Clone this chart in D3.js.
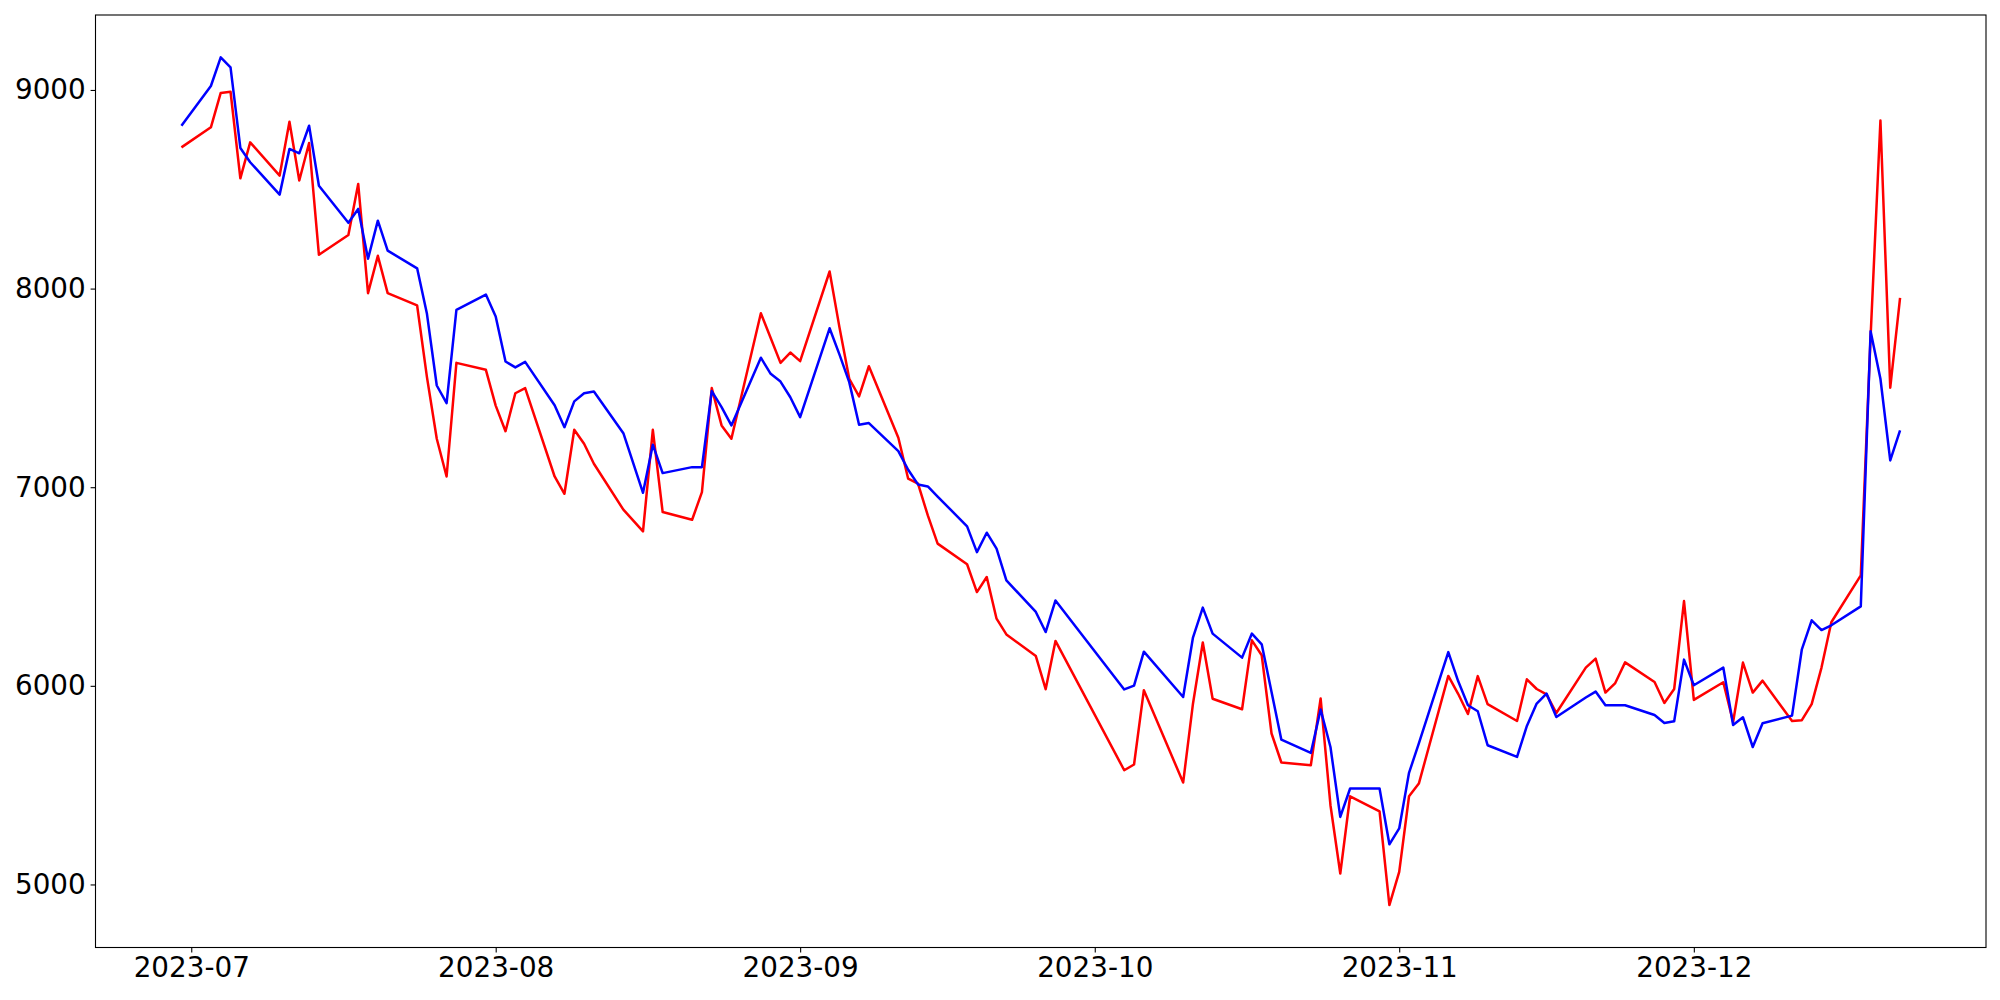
<!DOCTYPE html>
<html>
<head>
<meta charset="utf-8">
<script src="https://cdn.jsdelivr.net/npm/d3@7"></script>
<style>
  body { margin: 0; background: #fff; }
  svg text { font-family: "DejaVu Sans", sans-serif; }
</style>
</head>
<body>
<div id="main"></div>
<script>
// DATA (trading days)
var dates = [
  "2023-06-30",
  "2023-07-03","2023-07-04","2023-07-05","2023-07-06","2023-07-07",
  "2023-07-10","2023-07-11","2023-07-12","2023-07-13","2023-07-14",
  "2023-07-17","2023-07-18","2023-07-19","2023-07-20","2023-07-21",
  "2023-07-24","2023-07-25","2023-07-26","2023-07-27","2023-07-28","2023-07-31",
  "2023-08-01","2023-08-02","2023-08-03","2023-08-04",
  "2023-08-07","2023-08-08","2023-08-09","2023-08-10","2023-08-11",
  "2023-08-14","2023-08-16","2023-08-17","2023-08-18",
  "2023-08-21","2023-08-22","2023-08-23","2023-08-24","2023-08-25",
  "2023-08-28","2023-08-29","2023-08-30","2023-08-31",
  "2023-09-01","2023-09-04","2023-09-05","2023-09-06","2023-09-07","2023-09-08",
  "2023-09-11","2023-09-12","2023-09-13","2023-09-14","2023-09-15",
  "2023-09-18","2023-09-19","2023-09-20","2023-09-21","2023-09-22",
  "2023-09-25","2023-09-26","2023-09-27",
  "2023-10-04","2023-10-05","2023-10-06",
  "2023-10-10","2023-10-11","2023-10-12","2023-10-13",
  "2023-10-16","2023-10-17","2023-10-18","2023-10-19","2023-10-20",
  "2023-10-23","2023-10-24","2023-10-25","2023-10-26","2023-10-27",
  "2023-10-30","2023-10-31",
  "2023-11-01","2023-11-02","2023-11-03",
  "2023-11-06","2023-11-07","2023-11-08","2023-11-09","2023-11-10",
  "2023-11-13","2023-11-14","2023-11-15","2023-11-16","2023-11-17",
  "2023-11-20","2023-11-21","2023-11-22","2023-11-23","2023-11-24",
  "2023-11-27","2023-11-28","2023-11-29","2023-11-30",
  "2023-12-01","2023-12-04","2023-12-05","2023-12-06","2023-12-07","2023-12-08",
  "2023-12-11","2023-12-12","2023-12-13","2023-12-14","2023-12-15",
  "2023-12-18","2023-12-19","2023-12-20","2023-12-21","2023-12-22"
]

var red_values = [
  8711,
  8812, 8985, 8991, 8555, 8736, 8569, 8840, 8544, 8733, 8170,
  8270, 8527, 7977, 8165, 7977, 7915, 7554, 7244, 7054, 7626, 7591,
  7411, 7282, 7473, 7499, 7054, 6967, 7289, 7219, 7118,
  6887, 6778, 7289, 6875, 6836, 6975, 7499, 7311, 7244,
  7876, 7751, 7626, 7678,
  7635, 8086, 7806, 7546, 7457, 7609, 7249, 7043, 7018, 6858, 6716,
  6612, 6472, 6548, 6338, 6259, 6150, 5983, 6226,
  5575, 5604, 5978, 5513, 5910, 6218, 5935, 5882, 6229, 6154, 5760, 5614,
  5600, 5936, 5399, 5055, 5444, 5368, 4896,
  5063, 5444, 5508, 6050, 5960, 5858, 6049, 5908,
  5823, 6033, 5984, 5957, 5863, 6092, 6137, 5966, 6014, 6118,
  6019, 5914, 5984, 6427,
  5929, 6018, 5818, 6117, 5966, 6026, 5823, 5827, 5908, 6092, 6320,
  6556, 7760, 8846, 7501, 7953
]

var blue_values = [
  8820,
  9020, 9164, 9114, 8708, 8636, 8473, 8703, 8681, 8820, 8518,
  8331, 8401, 8150, 8342, 8191, 8102, 7873, 7512, 7423, 7893, 7970,
  7860, 7633, 7603, 7631, 7413, 7302, 7432, 7473, 7482,
  7272, 6972, 7214, 7071, 7101, 7101, 7484, 7403, 7311,
  7652, 7571, 7532, 7453,
  7353, 7800, 7669, 7529, 7314, 7323, 7182, 7088, 7014, 7004, 6953,
  6803, 6673, 6771, 6691, 6531, 6372, 6271, 6430,
  5982, 6001, 6172, 5944, 6243, 6394, 6263, 6142, 6263, 6209, 5969, 5729,
  5662, 5881, 5692, 5340, 5483, 5483, 5202,
  5282, 5562, 5710, 6170, 6024, 5902, 5872, 5701,
  5642, 5798, 5911, 5961, 5843, 5941, 5971, 5902, 5902, 5902,
  5853, 5813, 5822, 6132,
  6003, 6092, 5803, 5842, 5692, 5812, 5850, 6184, 6330, 6281, 6305,
  6400, 7785, 7546, 7135, 7286
]

var y_ticks = [5000, 6000, 7000, 8000, 9000]

// LAYOUT
var width = 2000
var height = 1000
var margin = {left: 95.5, right: 14, top: 15, bottom: 52.5}
var font_size = '27.8px'

var parse = d3.utcParse('%Y-%m-%d')
var red_rows = dates.map((d, i) => ({date: parse(d), value: red_values[i]}))
var blue_rows = dates.map((d, i) => ({date: parse(d), value: blue_values[i]}))

// Matplotlib style auto limits: 5% margin on each side
function padded(extent) {
  var pad = (extent[1] - extent[0]) * 0.05
  return [extent[0] - pad, extent[1] + pad]
}

var x_ext = d3.extent(red_rows, d => d.date).map(d => +d)
var all_values = red_values.concat(blue_values)

var x = d3.scaleUtc()
  .domain(padded(x_ext).map(d => new Date(d)))
  .range([margin.left, width - margin.right])
var y = d3.scaleLinear()
  .domain(padded(d3.extent(all_values)))
  .range([height - margin.bottom, margin.top])

var svg = d3.select('#main').append('svg')
  .attr('width', width)
  .attr('height', height)
  .style('background', '#fff')

// Lines (red first, blue on top)
var line = d3.line()
  .x(d => x(d.date))
  .y(d => y(d.value))

svg.append('path')
  .datum(red_rows)
  .attr('d', line)
  .attr('fill', 'none')
  .attr('stroke', '#ff0000')
  .attr('stroke-width', 2.5)
  .attr('stroke-linejoin', 'round')

svg.append('path')
  .datum(blue_rows)
  .attr('d', line)
  .attr('fill', 'none')
  .attr('stroke', '#0000ff')
  .attr('stroke-width', 2.5)
  .attr('stroke-linejoin', 'round')

// Axes
var x_axis = svg.append('g')
  .attr('transform', `translate(0,${height - margin.bottom})`)
  .call(d3.axisBottom(x)
    .ticks(d3.utcMonth.every(1))
    .tickFormat(d3.utcFormat('%Y-%m'))
    .tickSize(4.9)
    .tickPadding(4.9))

var y_axis = svg.append('g')
  .attr('transform', `translate(${margin.left},0)`)
  .call(d3.axisLeft(y)
    .tickValues(y_ticks)
    .tickFormat(d3.format('d'))
    .tickSize(4.9)
    .tickPadding(4.9))

for (var ax of [x_axis, y_axis]) {
  ax.select('.domain').remove()
  ax.selectAll('.tick line').attr('stroke', '#000').attr('stroke-width', 1.1)
  ax.selectAll('.tick text')
    .attr('fill', '#000')
    .style('font-size', font_size)
    .style('font-family', '"DejaVu Sans", sans-serif')
}

// Frame around the plot area
svg.append('rect')
  .attr('x', margin.left)
  .attr('y', margin.top)
  .attr('width', width - margin.left - margin.right)
  .attr('height', height - margin.top - margin.bottom)
  .attr('fill', 'none')
  .attr('stroke', '#000')
  .attr('stroke-width', 1.1)
</script>
</body>
</html>
